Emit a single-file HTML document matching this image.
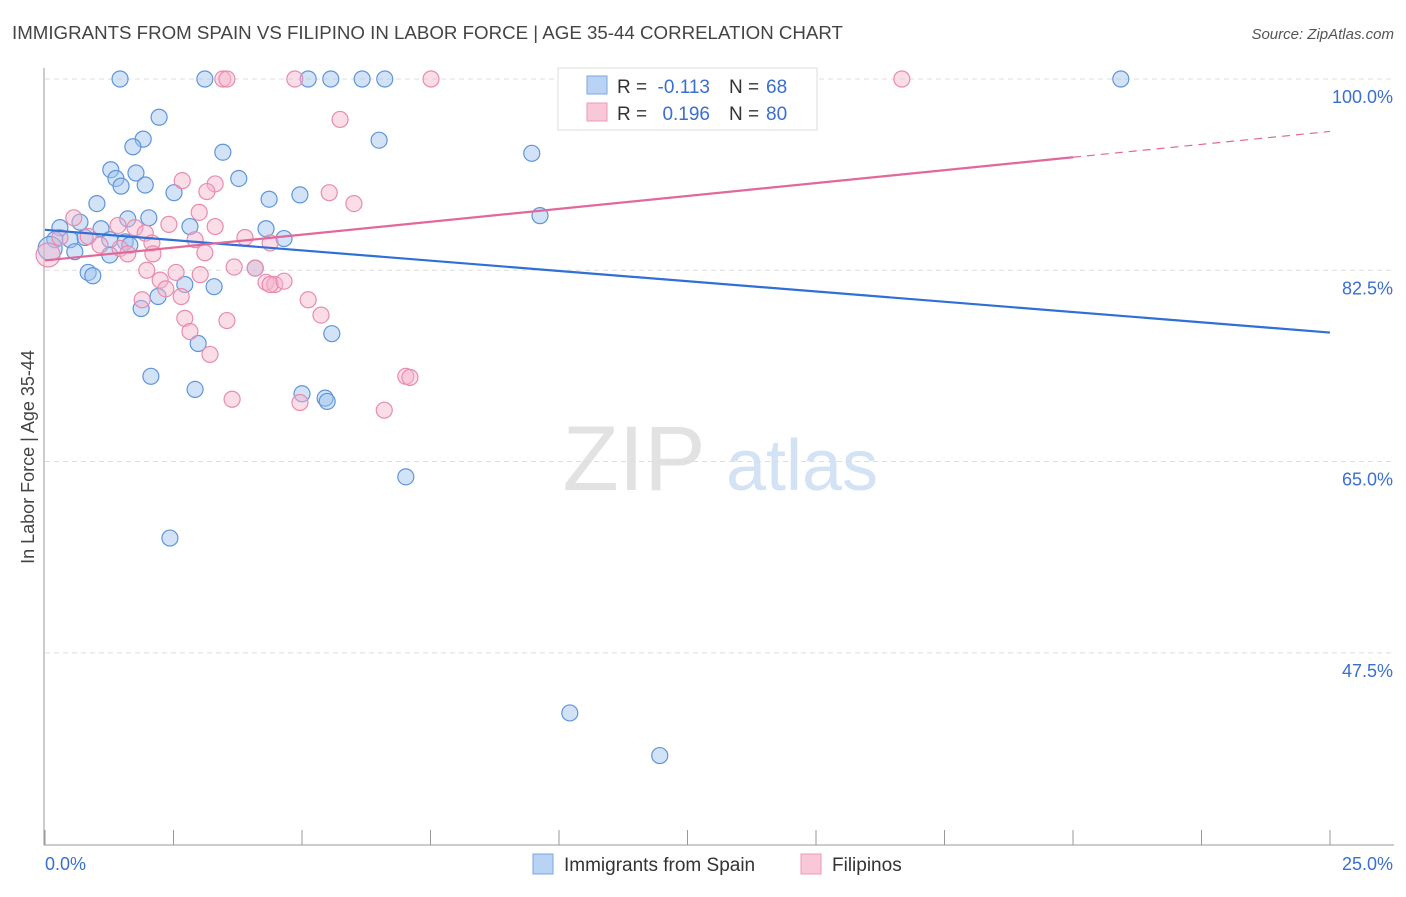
<!DOCTYPE html>
<html><head><meta charset="utf-8"><style>
body{margin:0;background:#fff;font-family:"Liberation Sans",sans-serif;}
svg text{font-family:"Liberation Sans",sans-serif;}
</style></head><body>
<svg width="1406" height="892" viewBox="0 0 1406 892">
<text x="12" y="39" font-size="18" fill="#444" textLength="831" lengthAdjust="spacingAndGlyphs">IMMIGRANTS FROM SPAIN VS FILIPINO IN LABOR FORCE | AGE 35-44 CORRELATION CHART</text>
<text x="1394" y="39" font-size="15" fill="#555" font-style="italic" text-anchor="end">Source: ZipAtlas.com</text>
<g><text x="634" y="490" font-size="92" fill="#e2e2e2" font-family="Liberation Serif" text-anchor="middle">ZIP</text><text x="802" y="490" font-size="72" fill="#d3e2f4" text-anchor="middle">atlas</text></g>
<g id="grid"></g><g id="axes"></g><g id="pts"></g><g id="lines"></g>
<text x="34" y="457" font-size="18" fill="#444" text-anchor="middle" transform="rotate(-90 34 457)">In Labor Force | Age 35-44</text>
<text x="45" y="870" font-size="18" fill="#3a6fd0">0.0%</text>
<text x="1393" y="870" font-size="18" fill="#3a6fd0" text-anchor="end">25.0%</text>
<g>
<rect x="558" y="68" width="259" height="62" fill="#fff" stroke="#ddd"/>
<rect x="587" y="76" width="20" height="18" fill="#b9d3f4" stroke="#7aa5e0"/>
<rect x="587" y="103" width="20" height="18" fill="#f9c8d8" stroke="#ec9ab8"/>
<text x="617" y="93" font-size="19" fill="#333">R =</text>
<text x="710" y="93" font-size="19" fill="#3a6fd0" text-anchor="end">-0.113</text>
<text x="729" y="93" font-size="19" fill="#333">N =</text>
<text x="766" y="93" font-size="19" fill="#3a6fd0">68</text>
<text x="617" y="120" font-size="19" fill="#333">R =</text>
<text x="710" y="120" font-size="19" fill="#3a6fd0" text-anchor="end">0.196</text>
<text x="729" y="120" font-size="19" fill="#333">N =</text>
<text x="766" y="120" font-size="19" fill="#3a6fd0">80</text>
</g>
<g>
<rect x="533" y="854" width="20" height="20" fill="#b9d3f4" stroke="#7aa5e0"/>
<text x="564" y="871" font-size="19" fill="#333">Immigrants from Spain</text>
<rect x="801" y="854" width="20" height="20" fill="#f9c8d8" stroke="#ec9ab8"/>
<text x="832" y="871" font-size="19" fill="#333">Filipinos</text>
</g>
</svg>
<script>
const yTicks=[100,82.5,65,47.5];
const yTickLabels=["100.0%","82.5%","65.0%","47.5%"];
const xTicks=[0,2.5,5,7.5,10,12.5,15,17.5,20,22.5,25];
const blueX=[1.46,3.11,5.12,5.56,6.17,6.61,20.93,11.17,2.22,1.91,1.71,6.5,9.47,3.46,1.28,1.77,1.38,1.48,1.95,3.77,2.51,4.36,4.96,1.01,2.02,1.61,9.63,2.82,4.3,4.65,1.09,0.68,0.29,0.19,0.49,0.78,1.26,1.56,1.65,0.58,1.26,4.09,0.84,0.93,2.72,3.29,2.2,1.87,5.58,2.98,2.06,2.92,5.0,5.45,5.49,7.02,2.43,10.21,11.96,0.1];
const blueY=[100,100,100,100,100,100,100,100,96.5,94.5,93.8,94.4,93.2,93.3,91.7,91.4,90.9,90.2,90.3,90.9,89.6,89.0,89.4,88.6,87.3,87.2,87.5,86.5,86.3,85.4,86.3,86.9,86.4,85.3,85.3,85.5,85.3,85.1,84.8,84.2,83.9,82.7,82.3,82.0,81.2,81.0,80.1,79.0,76.7,75.8,72.8,71.6,71.2,70.8,70.5,63.6,58.0,42.0,38.1,84.5];
const pinkX=[3.46,3.54,4.86,7.51,11.77,16.67,5.74,2.67,3.31,3.15,5.53,6.01,3.0,0.56,2.41,3.31,1.42,1.75,1.95,3.89,2.92,4.38,0.29,0.84,1.07,1.46,2.08,1.61,3.11,2.1,3.68,4.09,1.98,2.55,3.02,4.3,4.47,4.38,4.65,2.24,2.35,2.65,1.89,5.12,5.37,2.72,3.54,2.82,3.21,7.02,7.1,3.64,4.96,6.6,0.06];
const pinkY=[100,100,100,100,100,100,96.3,90.7,90.4,89.7,89.6,88.6,87.8,87.3,86.7,86.5,86.6,86.4,85.9,85.5,85.3,85.0,85.5,85.6,84.8,84.5,85.0,84.0,84.1,84.0,82.8,82.7,82.5,82.3,82.1,81.4,81.2,81.2,81.5,81.6,80.8,80.1,79.8,79.8,78.4,78.1,77.9,76.9,74.8,72.8,72.7,70.7,70.4,69.7,83.9];
const blueTrend=[86.2,76.8];
const pinkTrend=[83.4,95.2];
const pinkSolidEnd=20;
const NS="http://www.w3.org/2000/svg";
const X=v=>45+v*51.4, Y=v=>79+(100-v)*10.93;
function mk(t,a,p){const e=document.createElementNS(NS,t);for(const k in a)e.setAttribute(k,a[k]);p.appendChild(e);return e;}
const grid=document.getElementById('grid'),axes=document.getElementById('axes'),pts=document.getElementById('pts'),lines=document.getElementById('lines');
yTicks.forEach((t,i)=>{
 const l=mk('line',{x1:45,x2:1394,y1:Y(t),y2:Y(t),stroke:'#ddd','stroke-dasharray':'5,4'},grid);
 
 
 const tx=mk('text',{x:1393,y:Y(t)+24,'font-size':18,fill:'#3a6fd0','text-anchor':'end'},grid);
 tx.textContent=yTickLabels[i];
 
 
});
mk('line',{x1:44,x2:44,y1:68,y2:845,stroke:'#999'},axes);
mk('line',{x1:44,x2:1394,y1:845,y2:845,stroke:'#999'},axes);
xTicks.forEach(t=>{
 const l=mk('line',{x1:X(t),x2:X(t),y1:830,y2:845,stroke:'#999'},axes);
 
 
});
function dots(xs,ys,fill,stroke,name){xs.forEach((x,i)=>{
 const big=i===xs.length-1;
 const c=mk('circle',{cx:X(x),cy:Y(ys[i]),r:big?12:8,fill:fill,'fill-opacity':0.45,stroke:stroke,'stroke-width':1.2},pts);
 
 
});}
dots(blueX,blueY,'#9dc0ee','#5f95dc','point-spain');
dots(pinkX,pinkY,'#f6b4cb','#e88cae','point-filipinos');
const bl=mk('line',{x1:X(0),y1:Y(blueTrend[0]),x2:X(25),y2:Y(blueTrend[1]),stroke:'#2f6fd6','stroke-width':2.2},lines);


const pm=pinkTrend[0]+(pinkTrend[1]-pinkTrend[0])*pinkSolidEnd/25;
const pl=mk('line',{x1:X(0),y1:Y(pinkTrend[0]),x2:X(pinkSolidEnd),y2:Y(pm),stroke:'#e2689a','stroke-width':2.2},lines);


const pd=mk('line',{x1:X(pinkSolidEnd),y1:Y(pm),x2:X(25),y2:Y(pinkTrend[1]),stroke:'#e2689a','stroke-width':1.2,'stroke-dasharray':'8,6'},lines);


</script>
</body></html>
